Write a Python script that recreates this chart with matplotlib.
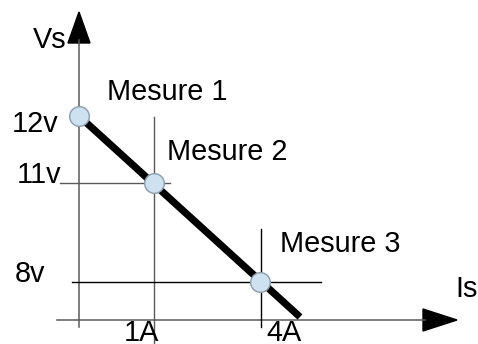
import matplotlib
matplotlib.use("Agg")
import matplotlib.pyplot as plt
from matplotlib.patches import Polygon

# Schematic diagram coordinates (diagram units, y pointing down)
mesure_labels = ["Mesure 1", "Mesure 2", "Mesure 3"]
mesure_x = [79, 154, 260]
mesure_y = [116, 183, 282]
line_end = (300, 317)

is_labels = ["1A", "4A"]
is_pos = [154, 261]
vs_labels = ["12v", "11v", "8v"]
vs_pos = [116, 183, 282]

fig = plt.figure(figsize=(4.78, 3.44), dpi=100)
ax = fig.add_axes([0, 0, 1, 1])
ax.set_xlim(0, 478)
ax.set_ylim(344, 0)
ax.axis("off")

font = dict(family=["Liberation Sans", "DejaVu Sans"], fontsize=20.8, color="black")
gray = "#5a5a5a"

# axes
ax.plot([79, 79], [327, 40], color=gray, lw=1.1)
ax.plot([57, 425], [320, 320], color=gray, lw=1.1)
ax.add_patch(Polygon([(79, 12), (68, 43), (90, 43)], closed=True, color="black"))
ax.add_patch(Polygon([(457, 320), (423, 309), (423, 331)], closed=True, color="black"))

# guide lines
ax.plot([60, 170], [vs_pos[1], vs_pos[1]], color=gray, lw=1.0)
ax.plot([is_pos[0], is_pos[0]], [117, 344], color=gray, lw=1.0)
ax.plot([72, 321], [vs_pos[2], vs_pos[2]], color="black", lw=1.0)
ax.plot([is_pos[1], is_pos[1]], [229, 327], color="black", lw=1.0)

# characteristic line
ax.plot([mesure_x[0], line_end[0]], [mesure_y[0], line_end[1]], color="black",
        lw=5.2, solid_capstyle="butt", zorder=3)

# measurement points
ax.scatter(mesure_x, mesure_y, s=200, facecolor="#cde1f0", edgecolor="#8c9cab",
           linewidth=1.0, zorder=4)

# texts
ax.text(33, 48, "Vs", va="baseline", ha="left", **font)
ax.text(455, 297, "Is", va="baseline", ha="left", **font)
label_xy = [(107, 100), (167, 160), (280, 252)]
for lab, (tx, ty) in zip(mesure_labels, label_xy):
    ax.text(tx, ty, lab, va="baseline", ha="left", **font)
vs_xy = [(12, 132), (17, 183), (15, 282)]
for lab, (x, y) in zip(vs_labels, vs_xy):
    ax.text(x, y, lab, va="baseline", ha="left", **font)
is_text_x = [141, 284]
for lab, x in zip(is_labels, is_text_x):
    ax.text(x, 341, lab, va="baseline", ha="center", **font)

fig.savefig("out.png", dpi=100)
